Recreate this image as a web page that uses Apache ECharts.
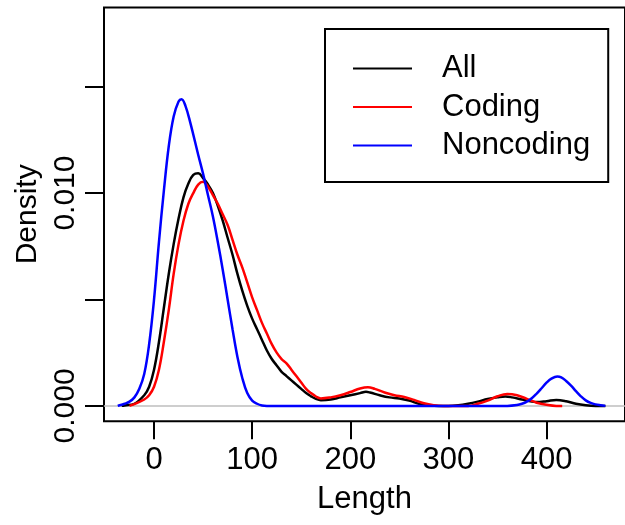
<!DOCTYPE html>
<html>
<head>
<meta charset="utf-8">
<script src="https://cdn.jsdelivr.net/npm/echarts@6/dist/echarts.min.js"></script>
<style>
  html, body { margin: 0; padding: 0; background: #fff; }
  #main { width: 625px; height: 525px; }
</style>
</head>
<body>
<div id="main"></div>
<script>
// density curves
var allX = [-33, -30, -20, -10, -5, 0, 5, 10, 15, 20, 25, 30, 35, 40, 45, 50, 55, 60, 65, 70, 75, 80, 85, 90, 95, 100, 105, 110, 115, 120, 125, 130, 135, 140, 145, 150, 155, 160, 165, 170, 180, 190, 200, 210, 216, 220, 230, 240, 250, 260, 270, 280, 290, 300, 310, 320, 330, 340, 350, 358, 365, 375, 385, 390, 400, 410, 420, 430, 440, 450, 460];
var allY = [0, 0.00002, 0.0001, 0.0005, 0.0009, 0.0017, 0.0030, 0.0046, 0.0062, 0.0076, 0.0088, 0.0098, 0.01045, 0.01085, 0.01093, 0.0107, 0.0104, 0.0100, 0.0094, 0.0087, 0.0079, 0.0071, 0.0062, 0.0054, 0.0047, 0.0041, 0.0036, 0.0031, 0.0026, 0.0022, 0.0019, 0.0016, 0.0014, 0.0012, 0.0010, 0.0008, 0.0006, 0.00045, 0.00033, 0.00027, 0.0003, 0.0004, 0.0005, 0.0006, 0.00066, 0.00063, 0.0005, 0.0004, 0.00035, 0.00025, 0.0001, 0.00003, 0, 0, 0.00003, 0.0001, 0.0002, 0.00032, 0.0004, 0.00044, 0.0004, 0.0003, 0.0002, 0.00018, 0.00022, 0.00028, 0.00022, 0.0001, 0.00003, 0, 0];

var codX = [-25, -20, -10, -5, 0, 5, 10, 15, 20, 25, 30, 35, 40, 45, 50, 55, 60, 65, 70, 75, 80, 85, 90, 95, 100, 105, 110, 115, 120, 125, 130, 135, 140, 145, 150, 155, 160, 165, 170, 180, 190, 200, 210, 218, 225, 235, 245, 255, 265, 275, 285, 295, 310, 320, 330, 340, 350, 360, 370, 380, 390, 400, 410, 416];
var codY = [0, 0.00008, 0.0003, 0.0005, 0.0009, 0.0017, 0.0030, 0.0045, 0.0062, 0.0076, 0.0087, 0.0095, 0.0100, 0.01040, 0.01053, 0.0103, 0.0099, 0.0095, 0.0090, 0.0085, 0.0078, 0.0071, 0.0065, 0.0058, 0.0051, 0.0045, 0.0039, 0.0034, 0.0029, 0.0025, 0.0022, 0.0020, 0.0017, 0.0014, 0.0011, 0.0008, 0.0006, 0.00044, 0.00035, 0.0004, 0.0005, 0.00065, 0.00082, 0.00088, 0.0008, 0.00063, 0.0005, 0.00042, 0.00028, 0.00012, 0.00003, 0, 0, 0, 0.0001, 0.00025, 0.00045, 0.00056, 0.0005, 0.00033, 0.00015, 0.00005, 0, 0];

var nonX = [-37, -35, -30, -25, -20, -15, -10, -5, 0, 5, 10, 15, 20, 25, 28, 32, 37, 45, 50, 55, 60, 65, 70, 75, 80, 85, 90, 95, 100, 105, 110, 115, 130, 160, 200, 250, 300, 340, 360, 370, 375, 380, 385, 390, 395, 400, 405, 411, 415, 420, 425, 430, 435, 440, 445, 450, 455, 460];
var nonY = [0, 0.00003, 0.0001, 0.0002, 0.0004, 0.0008, 0.0015, 0.0029, 0.0050, 0.0077, 0.0101, 0.0122, 0.0136, 0.0143, 0.01441, 0.0141, 0.0133, 0.0118, 0.0109, 0.0099, 0.0089, 0.0077, 0.0064, 0.0050, 0.0036, 0.0023, 0.0013, 0.0006, 0.00025, 0.0001, 0.00002, 0, 0, 0, 0, 0, 0, 0, 0, 0.00004, 0.0001, 0.0002, 0.00036, 0.00058, 0.00083, 0.00109, 0.00128, 0.00138, 0.00134, 0.00117, 0.00095, 0.00069, 0.00045, 0.00026, 0.00014, 0.00007, 0.00003, 0];

var seriesNames = ['All', 'Coding', 'Noncoding'];
var seriesColors = ['#000000', '#FF0000', '#0000FF'];
var xTicks = [0, 100, 200, 300, 400];
var yTicks = [0, 0.005, 0.010, 0.015];
var yLabels = [0, 0.010];

function pairs(xs, ys) {
  return xs.map(function (x, i) { return [x, ys[i]]; });
}

var chart = echarts.init(document.getElementById('main'));
var font = 'Liberation Sans, Arial, Helvetica, sans-serif';

function curve(name, color, data) {
  return {
    name: name,
    type: 'line',
    data: data,
    symbol: 'none',
    smooth: 0.4,
    z: 3,
    lineStyle: { color: color, width: 2.5 },
    itemStyle: { color: color }
  };
}

chart.setOption({
  animation: false,
  textStyle: { fontFamily: font, color: '#000' },
  grid: {
    left: 104, top: 7.5, width: 535, height: 413.7,
    show: true, borderColor: '#000', borderWidth: 2, backgroundColor: 'transparent'
  },
  legend: {
    data: seriesNames.map(function (n) { return { name: n, icon: 'rect' }; }),
    orient: 'vertical',
    left: 325, top: 29,
    padding: [24, 18, 21, 28],
    itemWidth: 59, itemHeight: 2.2, itemGap: 7.5,
    borderColor: '#000', borderWidth: 2,
    textStyle: { fontFamily: font, fontSize: 31, color: '#000', lineHeight: 31, padding: [0, 0, 0, 25] }
  },
  xAxis: [{
    type: 'value',
    min: -51, max: 480,
    name: 'Length',
    nameLocation: 'middle',
    nameGap: 63,
    nameMoveOverlap: false,
    nameTextStyle: { fontSize: 31, fontFamily: font, color: '#000' },
    axisLine: { show: false, onZero: false },
    axisTick: { show: true, length: 18, lineStyle: { color: '#000', width: 2 }, customValues: xTicks },
    axisLabel: { fontSize: 31, color: '#000', margin: 24, customValues: xTicks },
    splitLine: { show: false }
  }, {
    // grey zero line of the density plot
    type: 'value',
    min: -51, max: 480,
    position: 'bottom',
    axisLine: { show: true, onZero: true, lineStyle: { color: '#BEBEBE', width: 1.5 } },
    axisTick: { show: false },
    axisLabel: { show: false },
    splitLine: { show: false }
  }],
  yAxis: {
    type: 'value',
    min: -0.00072, max: 0.01872,
    name: 'Density',
    nameLocation: 'middle',
    nameGap: 61,
    nameMoveOverlap: false,
    nameRotate: 90,
    nameTextStyle: { fontSize: 30, fontFamily: font, color: '#000' },
    axisLine: { show: false, onZero: false },
    axisTick: { show: true, length: 19, lineStyle: { color: '#000', width: 2 }, customValues: yTicks },
    axisLabel: {
      fontSize: 30, color: '#000', margin: 23, rotate: 90, customValues: yLabels,
      formatter: function (v) { return v.toFixed(3); }
    },
    splitLine: { show: false }
  },
  series: [
    curve(seriesNames[0], seriesColors[0], pairs(allX, allY)),
    curve(seriesNames[1], seriesColors[1], pairs(codX, codY)),
    curve(seriesNames[2], seriesColors[2], pairs(nonX, nonY))
  ]
});
</script>
</body>
</html>
